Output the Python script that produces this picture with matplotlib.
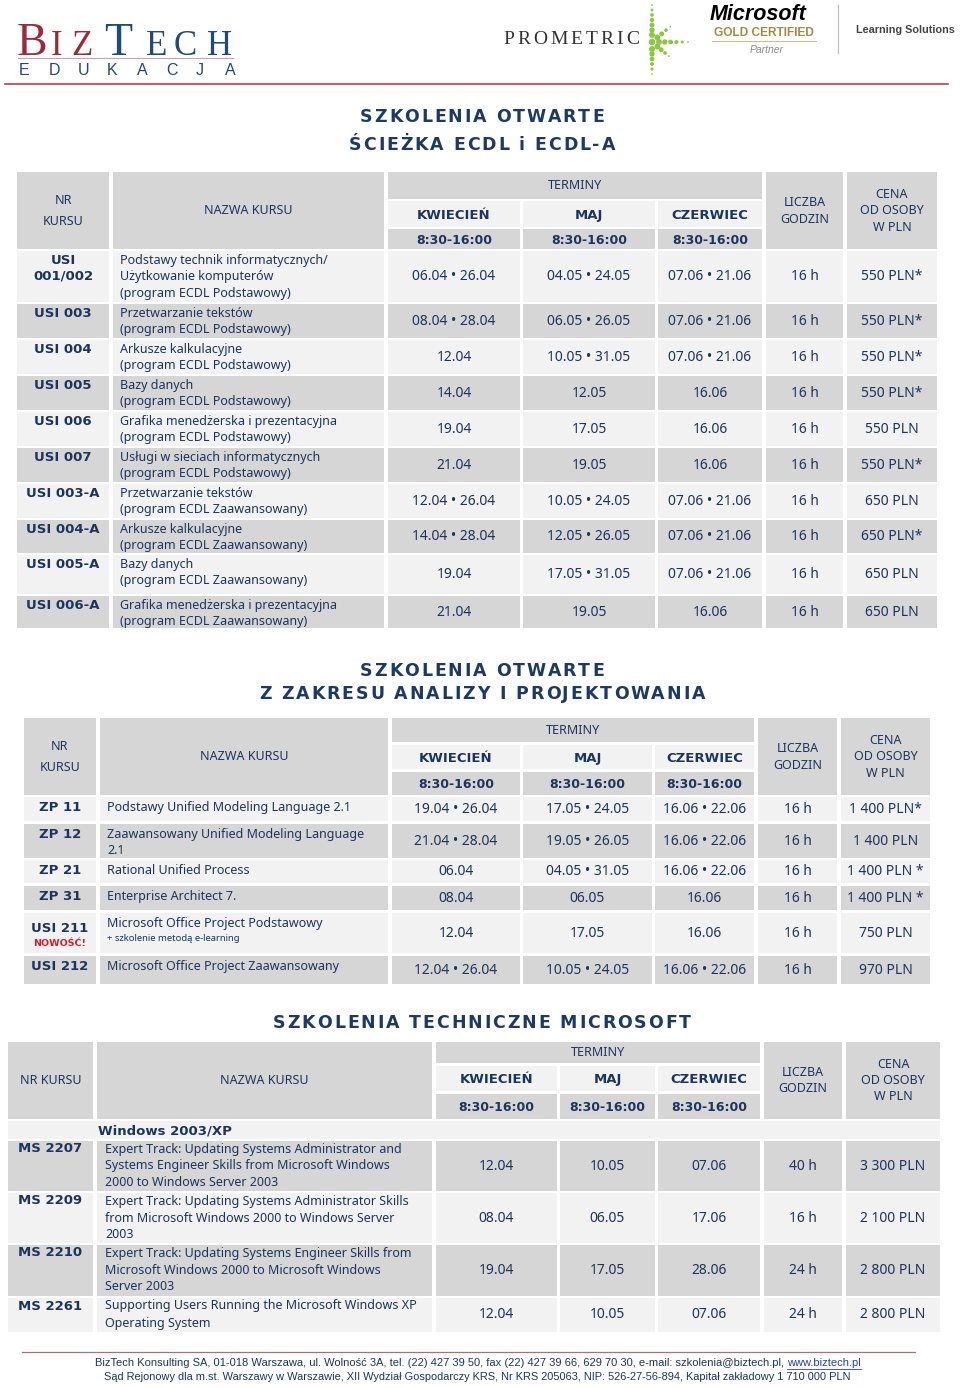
import numpy as np
import matplotlib
matplotlib.use('Agg')
import matplotlib.pyplot as plt
from matplotlib.patches import Rectangle

# ---------------------------------------------------------------- data
MONTHS = ['KWIECIEŃ', 'MAJ', 'CZERWIEC']
TIME_LABEL = '8:30-16:00'

T1_CODES = ['USI\n001/002', 'USI 003', 'USI 004', 'USI 005', 'USI 006', 'USI 007',
            'USI 003-A', 'USI 004-A', 'USI 005-A', 'USI 006-A']
T1_NAMES = ['Podstawy technik informatycznych/\nUżytkowanie komputerów\n(program ECDL Podstawowy)',
            'Przetwarzanie tekstów\n(program ECDL Podstawowy)',
            'Arkusze kalkulacyjne\n(program ECDL Podstawowy)',
            'Bazy danych\n(program ECDL Podstawowy)',
            'Grafika menedżerska i prezentacyjna\n(program ECDL Podstawowy)',
            'Usługi w sieciach informatycznych\n(program ECDL Podstawowy)',
            'Przetwarzanie tekstów\n(program ECDL Zaawansowany)',
            'Arkusze kalkulacyjne\n(program ECDL Zaawansowany)',
            'Bazy danych\n(program ECDL Zaawansowany)',
            'Grafika menedżerska i prezentacyjna\n(program ECDL Zaawansowany)']
T1_KW = ['06.04 • 26.04', '08.04 • 28.04', '12.04', '14.04', '19.04', '21.04',
         '12.04 • 26.04', '14.04 • 28.04', '19.04', '21.04']
T1_MAJ = ['04.05 • 24.05', '06.05 • 26.05', '10.05 • 31.05', '12.05', '17.05', '19.05',
          '10.05 • 24.05', '12.05 • 26.05', '17.05 • 31.05', '19.05']
T1_CZ = ['07.06 • 21.06', '07.06 • 21.06', '07.06 • 21.06', '16.06', '16.06', '16.06',
         '07.06 • 21.06', '07.06 • 21.06', '07.06 • 21.06', '16.06']
T1_HOURS = ['16 h'] * 10
T1_PRICE = ['550 PLN*', '550 PLN*', '550 PLN*', '550 PLN*', '550 PLN', '550 PLN*',
            '650 PLN', '650 PLN*', '650 PLN', '650 PLN']

T2_CODES = ['ZP 11', 'ZP 12', 'ZP 21', 'ZP 31', 'USI 211', 'USI 212']
T2_NAMES = ['Podstawy Unified Modeling Language 2.1',
            'Zaawansowany Unified Modeling Language\n2.1',
            'Rational Unified Process',
            'Enterprise Architect 7.',
            'Microsoft Office Project Podstawowy',
            'Microsoft Office Project Zaawansowany']
T2_NOTES = ['', '', '', '', '+ szkolenie metodą e-learning', '']
T2_NEW = [False, False, False, False, True, False]
T2_KW = ['19.04 • 26.04', '21.04 • 28.04', '06.04', '08.04', '12.04', '12.04 • 26.04']
T2_MAJ = ['17.05 • 24.05', '19.05 • 26.05', '04.05 • 31.05', '06.05', '17.05', '10.05 • 24.05']
T2_CZ = ['16.06 • 22.06', '16.06 • 22.06', '16.06 • 22.06', '16.06', '16.06', '16.06 • 22.06']
T2_HOURS = ['16 h'] * 6
T2_PRICE = ['1 400 PLN*', '1 400 PLN', '1 400 PLN *', '1 400 PLN *', '750 PLN', '970 PLN']

T3_SECTION = 'Windows 2003/XP'
T3_CODES = ['MS 2207', 'MS 2209', 'MS 2210', 'MS 2261']
T3_NAMES = ['Expert Track: Updating Systems Administrator and\nSystems Engineer Skills from Microsoft Windows\n2000 to Windows Server 2003',
            'Expert Track: Updating Systems Administrator Skills\nfrom Microsoft Windows 2000 to Windows Server\n2003',
            'Expert Track: Updating Systems Engineer Skills from\nMicrosoft Windows 2000 to Microsoft Windows\nServer 2003',
            'Supporting Users Running the Microsoft Windows XP\nOperating System']
T3_KW = ['12.04', '08.04', '19.04', '12.04']
T3_MAJ = ['10.05', '06.05', '17.05', '10.05']
T3_CZ = ['07.06', '17.06', '28.06', '07.06']
T3_HOURS = ['40 h', '16 h', '24 h', '24 h']
T3_PRICE = ['3 300 PLN', '2 100 PLN', '2 800 PLN', '2 800 PLN']

FOOTER_1 = 'BizTech Konsulting SA, 01-018 Warszawa, ul. Wolność 3A, tel. (22) 427 39 50, fax (22) 427 39 66, 629 70 30, e-mail: szkolenia@biztech.pl, '
FOOTER_URL = 'www.biztech.pl'
FOOTER_2 = 'Sąd Rejonowy dla m.st. Warszawy w Warszawie, XII Wydział Gospodarczy KRS, Nr KRS 205063, NIP: 526-27-56-894, Kapitał zakładowy 1 710 000 PLN'

# ---------------------------------------------------------------- styles
NAVY = '#1b355e'
GRAY = '#d6d6d6'
LIGHT = '#f2f2f2'
REG = ['Noto Sans', 'DejaVu Sans']
BOLD = ['DejaVu Sans']

fig = plt.figure(figsize=(9.6, 13.88), dpi=100)
ax = fig.add_axes([0, 0, 1, 1])
ax.set_xlim(0, 960)
ax.set_ylim(1388, 0)
ax.axis('off')
R = fig.canvas.get_renderer()


def txt(x, y, s, size=9, bold=False, family=None, color=NAVY, ha='center', va='center', **kw):
    if family is None:
        family = BOLD if bold else REG
    return ax.text(x, y, s, fontsize=size, fontweight='bold' if bold else 'normal',
                   family=family, color=color, ha=ha, va=va, **kw)


def lines(x, y, s, step, **kw):
    for i, ln in enumerate(s.split('\n')):
        txt(x, y + i * step, ln, **kw)


def width(t):
    return t.get_window_extent(renderer=R).width


def spaced(x, y, s, gap, center=True, **kw):
    a = txt(0, y, 'x x', ha='left', **kw); b = txt(0, y, 'xx', ha='left', **kw)
    wsp = width(a) - width(b)
    a.remove(); b.remove()
    ts, ws = [], []
    for ch in s:
        if ch == ' ':
            ts.append(None); ws.append(wsp)
        else:
            t = txt(0, y, ch, ha='left', **kw)
            ts.append(t); ws.append(width(t))
    total = sum(ws) + gap * (len(s) - 1)
    x0 = x - total / 2 if center else x
    for t, w in zip(ts, ws):
        if t is not None:
            t.set_x(x0)
        x0 += w + gap


def cell(x0, x1, y0, y1, fc):
    ax.add_patch(Rectangle((x0, y0), x1 - x0, y1 - y0, facecolor=fc, edgecolor='none'))


def header(cols, hy, nr_lines):
    top, tb, mt, mb, tt, bot = hy
    cell(cols[0][0], cols[0][1], top, bot, GRAY)
    lines((cols[0][0] + cols[0][1]) / 2, (top + bot) / 2 - 10.5 * (len(nr_lines) - 1), '\n'.join(nr_lines), 21, size=9)
    cell(cols[1][0], cols[1][1], top, bot, GRAY)
    txt((cols[1][0] + cols[1][1]) / 2, (top + bot) / 2, 'NAZWA KURSU', size=9)
    cell(cols[2][0], cols[4][1], top, tb, GRAY)
    txt((cols[2][0] + cols[4][1]) / 2, (top + tb) / 2, 'TERMINY', size=9)
    for (x0, x1), m in zip(cols[2:5], MONTHS):
        cell(x0, x1, mt, mb, LIGHT)
        txt((x0 + x1) / 2, (mt + mb) / 2 + 1, m, size=9.5, bold=True)
        cell(x0, x1, tt, bot, GRAY)
        txt((x0 + x1) / 2, (tt + bot) / 2 + 1, TIME_LABEL, size=9, bold=True)
    cell(cols[5][0], cols[5][1], top, bot, GRAY)
    lines((cols[5][0] + cols[5][1]) / 2, (top + bot) / 2 - 8, 'LICZBA\nGODZIN', 16.5, size=9)
    cell(cols[6][0], cols[6][1], top, bot, GRAY)
    lines((cols[6][0] + cols[6][1]) / 2, (top + bot) / 2 - 16.5, 'CENA\nOD OSOBY\nW PLN', 16.5, size=9)


def body(cols, rows, codes, names, kw, maj, cz, hours, price, code_dy, name_dy, step,
         name_dx=7, start=0):
    for i, (y0, y1) in enumerate(rows):
        fc = LIGHT if (i + start) % 2 == 0 else GRAY
        for x0, x1 in cols:
            cell(x0, x1, y0, y1, fc)
        lines((cols[0][0] + cols[0][1]) / 2, y0 + code_dy, codes[i], 16, size=9.5, bold=True)
        lines(cols[1][0] + name_dx, y0 + name_dy, names[i], step, size=9, ha='left')
        ym = (y0 + y1) / 2
        for (x0, x1), v in zip(cols[2:], [kw[i], maj[i], cz[i], hours[i], price[i]]):
            txt((x0 + x1) / 2, ym, v, size=10)


def fitted(x, y, s, target, size=8, **kw):
    t = txt(x, y, s, size=size, **kw)
    t.set_fontsize(size * target / width(t))
    return t


# ---------------------------------------------------------------- logos
biz = [('B', 17, 33, '#9b2a3b'), ('I', 51, 25, '#9b2a3b'), ('Z', 71, 25, '#9b2a3b'),
       ('T', 104, 33, '#1f4a7a'), ('E', 146, 25, '#1f4a7a'), ('C', 174, 25, '#1f4a7a'),
       ('H', 207, 25, '#1f4a7a')]
for ch, x, sz, col in biz:
    ax.text(x, 55, ch, fontsize=sz, family=['Liberation Serif', 'DejaVu Serif'],
            color=col, ha='left', va='baseline')
ax.plot([18, 233], [58, 58], color='#c9a3ab', lw=0.8)
for i, ch in enumerate('EDUKACJA'):
    ax.text(19 + 29.4 * i, 75, ch, fontsize=11.5, family=['Liberation Sans', 'DejaVu Sans'],
            color='#1f4a7a', ha='left', va='baseline')

spaced(571, 39, 'PROMETRIC', 3.0, size=14, family=['Liberation Serif', 'DejaVu Serif'],
       color='#333333')
# starburst
cx, cy = 652, 42
for ang, n, ln in [(90, 7, 37), (-90, 6, 32), (40, 4, 24), (0, 6, 36), (-40, 4, 22)]:
    r = np.linspace(7, ln, n)
    s = np.linspace(18, 1.5, n)
    ax.scatter(cx + r * np.cos(np.radians(ang)), cy - r * np.sin(np.radians(ang)),
               s=s, color='#8dc63f', edgecolor='none', zorder=3)
ax.scatter([cx], [cy], s=22, color='#8dc63f', edgecolor='none', zorder=3)

ax.text(710, 20, 'Microsoft', fontsize=15.5, fontweight='bold', style='italic',
        family=['Liberation Sans', 'DejaVu Sans'], color='black', ha='left', va='baseline')
ax.text(764, 36, 'GOLD CERTIFIED', fontsize=8.6, fontweight='bold',
        family=['Liberation Sans', 'DejaVu Sans'], color='#a38b3f', ha='center', va='baseline')
ax.plot([712, 816], [40.5, 40.5], color='#cbbd8e', lw=0.8)
ax.text(767, 53, 'Partner', fontsize=7.5, style='italic',
        family=['Liberation Sans', 'DejaVu Sans'], color='#8a8a8a', ha='center', va='baseline')
ax.plot([838, 838], [5, 53], color='#bdbdbd', lw=0.9)
ax.text(856, 33, 'Learning Solutions', fontsize=7.8, fontweight='bold',
        family=['Liberation Sans', 'DejaVu Sans'], color='#444444', ha='left', va='baseline')
ax.plot([5, 948], [84, 84], color='#c23a52', lw=1.2)

# ---------------------------------------------------------------- table 1
TK = dict(size=12.5, bold=True, family=BOLD, color='#1b3a66')
spaced(482, 117, 'SZKOLENIA OTWARTE', 1.9, **TK)
spaced(482, 145, 'ŚCIEŻKA ECDL i ECDL-A', 1.9, **TK)

C1 = [(17, 109), (113, 384), (388, 520), (523, 655), (658, 762), (766, 843), (847, 937)]
H1 = (172, 199, 201, 227, 229, 249)
R1 = [(251, 302), (304, 338), (340, 374), (376, 410), (412, 446), (448, 482),
      (484, 518), (520, 553), (555, 594), (596, 628)]
header(C1, H1, ['NR', 'KURSU'])
body(C1, R1, T1_CODES, T1_NAMES, T1_KW, T1_MAJ, T1_CZ, T1_HOURS, T1_PRICE,
     code_dy=9, name_dy=9, step=16.5)

# ---------------------------------------------------------------- table 2
spaced(482, 671, 'SZKOLENIA OTWARTE', 1.9, **TK)
spaced(482, 694, 'Z ZAKRESU ANALIZY I PROJEKTOWANIA', 1.9, **TK)

C2 = [(24, 96), (100, 388), (392, 520), (523, 652), (655, 754), (758, 837), (841, 930)]
H2 = (718, 742, 745, 769, 772, 795)
R2 = [(797, 821), (824, 858), (860, 883), (886, 910), (913, 953), (956, 984)]
header(C2, H2, ['NR', 'KURSU'])
codes2 = ['' if n else c for c, n in zip(T2_CODES, T2_NEW)]
body(C2, R2, codes2, T2_NAMES, T2_KW, T2_MAJ, T2_CZ, T2_HOURS, T2_PRICE,
     code_dy=10, name_dy=10, step=16.5)
for (y0, y1), c, note, new in zip(R2, T2_CODES, T2_NOTES, T2_NEW):
    if new:
        txt((C2[0][0] + C2[0][1]) / 2, y0 + 15, c, size=9.5, bold=True)
        txt((C2[0][0] + C2[0][1]) / 2, y0 + 30, 'NOWOŚĆ!', size=6.8, bold=True, color='#d0202a')
    if note:
        txt(C2[1][0] + 7, y0 + 25, note, size=6.8, ha='left')

# ---------------------------------------------------------------- table 3
spaced(482, 1023, 'SZKOLENIA TECHNICZNE MICROSOFT', 1.9, **TK)

C3 = [(8, 93), (97, 432), (436, 557), (560, 655), (658, 760), (764, 842), (846, 940)]
H3 = (1042, 1063, 1066, 1091, 1094, 1119)
SEC3 = (1121, 1139)
R3 = [(1141, 1191), (1193, 1243), (1245, 1296), (1298, 1332)]
header(C3, H3, ['NR KURSU'])
cell(C3[0][0], C3[-1][1], SEC3[0], SEC3[1], LIGHT)
txt(C3[1][0] + 1, (SEC3[0] + SEC3[1]) / 2 + 1, T3_SECTION, size=9.5, bold=True, ha='left')
body(C3, R3, T3_CODES, T3_NAMES, T3_KW, T3_MAJ, T3_CZ, T3_HOURS, T3_PRICE,
     code_dy=8, name_dy=8, step=17, name_dx=8, start=1)

# ---------------------------------------------------------------- footer
ax.plot([22, 915], [1352, 1352], color='#a8707c', lw=0.9)
FN = ['Liberation Sans Narrow', 'Liberation Sans', 'DejaVu Sans']
f1 = fitted(95, 1363, FOOTER_1, 690, family=FN, ha='left')
f2 = txt(0, 1363, FOOTER_URL, size=f1.get_fontsize(), family=FN, ha='left', color='#1f3fbf')
w1, w2 = width(f1), width(f2)
f2.set_x(95 + w1)
ax.plot([95 + w1, 95 + w1 + w2], [1369, 1369], color='#1f3fbf', lw=0.6)
fitted(477, 1377, FOOTER_2, 746, family=FN)

fig.savefig('out.png', dpi=100, facecolor='white')
